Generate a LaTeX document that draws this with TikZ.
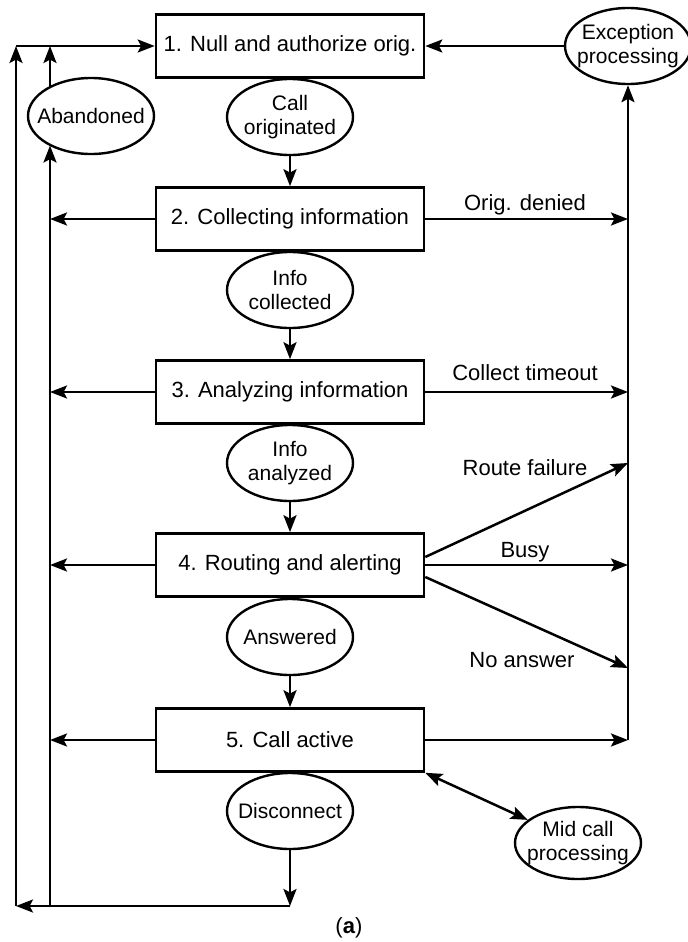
\documentclass[tikz,border=0pt]{standalone}
\usepackage{fontspec}
\setmainfont{Liberation Sans}
\usetikzlibrary{arrows.meta,shapes.geometric}

\begin{document}
\begin{tikzpicture}[x=0.5pt, y=-0.5pt,
                >={Stealth[length=8.5pt, width=6.5pt, inset=1.7pt]},
                font=\fontsize{11}{12}\selectfont,
                stage/.style={rectangle, draw, line width=1.3pt, minimum width=134pt, minimum height=31.5pt, inner xsep=2pt},
                event/.style={ellipse, draw, line width=1.2pt, align=center, font=\fontsize{10.5}{11.8}\selectfont,
                              minimum width=63pt, minimum height=38pt, inner xsep=-8pt, inner ysep=0pt},
                lbl/.style={anchor=base, inner sep=0pt},
                flow/.style={black, line width=1.25pt, ->}]
                \useasboundingbox (0,0) rectangle (688,942);

                \begin{scope}[every node/.style={stage}]
                    \node (box1) at (290, 46) {1. Null and authorize orig.};
                    \node (box2) at (290, 219) {2. Collecting information};
                    \node (box3) at (290, 392) {3. Analyzing information};
                    \node (box4) at (290, 565) {4. Routing and alerting};
                    \node (box5) at (290, 740) {5. Call active};
                \end{scope}

                \begin{scope}[every node/.style={event}]
                    \node (origin) at (290, 117) {Call\\originated};
                    \node (collected) at (290, 290) {Info\\collected};
                    \node (analyzed) at (290, 463) {Info\\analyzed};
                    \node (answered) at (290, 637) {Answered};
                    \node (disconnect) at (290, 811) {Disconnect};
                    \node (abandoned) at (91, 116) {Abandoned};
                    \node (exception) at (628, 46) {Exception\\processing};
                    \node[minimum height=36pt] (midcall) at (578, 843) {Mid call\\processing};
                \end{scope}

                \coordinate (outtop) at (16, 46);
                \coordinate (outbot) at (16, 906);
                \coordinate (intop) at (50, 46);
                \coordinate (inbot) at (50, 906);
                \coordinate (dbot) at (290, 906);
                \coordinate (rbot) at (628, 740);
                \coordinate (rfail) at (628, 463);
                \coordinate (noans) at (628, 668);

                \draw[flow] (origin) -- (box2);
                \draw[flow] (collected) -- (box3);
                \draw[flow] (analyzed) -- (box4);
                \draw[flow] (answered) -- (box5);
                \draw[flow] (disconnect) -- (dbot);

                \draw[flow] (dbot) -- (outbot);
                \draw[flow] (outbot) -- (outtop);
                \draw[flow] (outtop) -- (box1);
                \draw[flow] (inbot) -- (inbot |- abandoned.215);
                \draw[flow] (inbot |- abandoned.145) -- (intop);
                \draw[flow] (box2) -- (box2 -| inbot);
                \draw[flow] (box3) -- (box3 -| inbot);
                \draw[flow] (box4) -- (box4 -| inbot);
                \draw[flow] (box5) -- (box5 -| inbot);

                \draw[flow] (box2) -- (box2 -| rbot);
                \draw[flow] (box3) -- (box3 -| rbot);
                \draw[flow] ([yshift=4pt]box4.east) -- (rfail);
                \draw[flow] (box4) -- (box4 -| rbot);
                \draw[flow] ([yshift=-6pt]box4.east) -- (noans);
                \draw[flow] (box5) -- (rbot);
                \draw[flow] (rbot) -- (exception);
                \draw[flow] (exception) -- (box1);
                \draw[black, line width=1.25pt, <->] (box5.south east) -- (midcall);

                \node[lbl] (denied) at (525, 210) {Orig. denied};
                \node[lbl] (timeout) at (525, 380) {Collect timeout};
                \node[lbl] (failure) at (525, 475) {Route failure};
                \node[lbl] (busy) at (525, 557) {Busy};
                \node[lbl] (noanswer) at (522, 667) {No answer};
                \node[lbl] (caption) at (349, 933) {(\textbf{a})};
            \end{tikzpicture}
\end{document}
